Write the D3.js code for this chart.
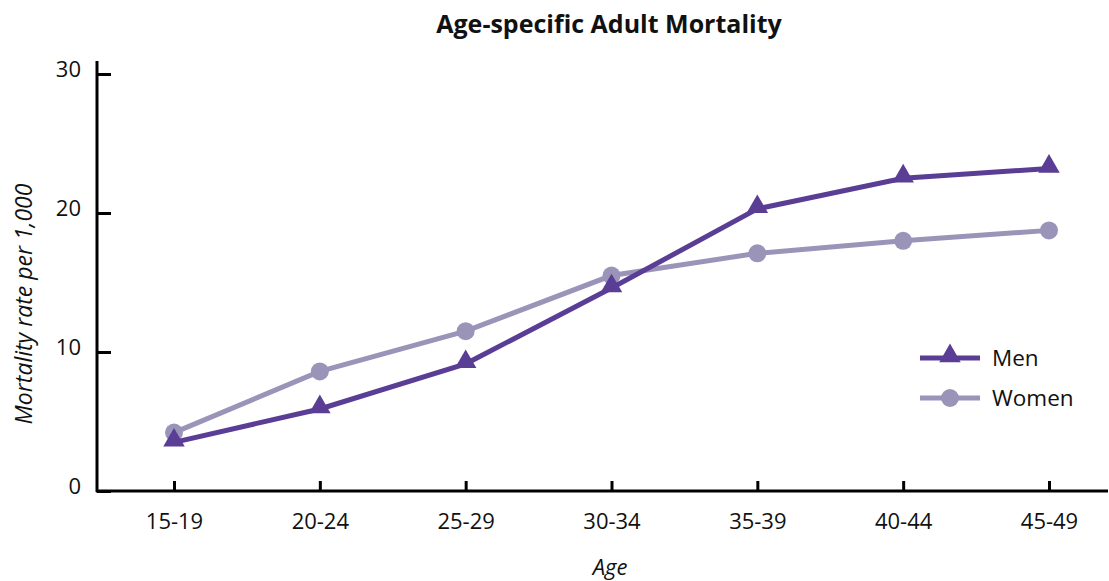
<!DOCTYPE html>
<html><head><meta charset="utf-8">
<script src="https://cdn.jsdelivr.net/npm/d3@7"></script>
<style>
body{margin:0;background:#fff;}
text{font-family:"Open Sans","Noto Sans",sans-serif;fill:#111;}
</style></head>
<body><svg id="c" width="1109" height="581"></svg>
<script>
const categories = ["15-19","20-24","25-29","30-34","35-39","40-44","45-49"];
const menValues = [3.5, 5.9, 9.15, 14.6, 20.3, 22.5, 23.2];
const womenValues = [4.2, 8.6, 11.5, 15.5, 17.1, 18.0, 18.75];
const yTicks = [0, 10, 20, 30];
const seriesNames = ["Men", "Women"];
const colors = {Men: "#5a3d94", Women: "#9a94b9"};

const svg = d3.select("#c");
const x = d3.scalePoint().domain(categories).range([174, 1049]);
const y = d3.scaleLinear().domain([0, 30]).range([491, 74]);

// axes
const yAxis = d3.axisLeft(y).tickValues(yTicks).tickSizeInner(-14).tickSizeOuter(0);
const gy = svg.append("g").attr("transform","translate(97,0)").call(yAxis);
gy.select(".domain").remove();
gy.append("line").attr("x1",0).attr("x2",0).attr("y1",61).attr("y2",492).attr("stroke","#000").attr("stroke-width",3);
gy.selectAll(".tick line").attr("stroke","#000").attr("stroke-width",3);
gy.selectAll(".tick text").attr("font-size",22).attr("fill","#111").attr("font-family","'Open Sans',sans-serif").attr("text-anchor","end").attr("x",-16).attr("dy","0.1em");

const xAxis = d3.axisBottom(x).tickSizeInner(-10).tickSizeOuter(0).tickPadding(22);
const gx = svg.append("g").attr("transform","translate(0,491)").call(xAxis);
gx.select(".domain").remove();
gx.append("line").attr("x1",96).attr("x2",1108).attr("y1",0).attr("y2",0).attr("stroke","#000").attr("stroke-width",3);
gx.selectAll(".tick line").attr("stroke","#000").attr("stroke-width",3);
gx.selectAll(".tick text").attr("font-size",22).attr("fill","#111").attr("font-family","'Open Sans',sans-serif");

// title and labels
svg.append("text").attr("x",609).attr("y",33).attr("text-anchor","middle").attr("font-size",25).attr("font-weight","bold").text("Age-specific Adult Mortality");
svg.append("text").attr("transform","translate(32,304) rotate(-90)").attr("text-anchor","middle").attr("font-size",23).attr("font-style","italic").text("Mortality rate per 1,000");
svg.append("text").attr("x",610).attr("y",575).attr("text-anchor","middle").attr("font-size",22).attr("font-style","italic").text("Age");

const line = d3.line().x((d,i)=>x(categories[i])).y(d=>y(d));
const tri = d3.symbol().type(d3.symbolTriangle).size(200);

function drawSeries(vals, name){
  const c = colors[name];
  svg.append("path").attr("d", line(vals)).attr("fill","none").attr("stroke",c).attr("stroke-width",5);
  vals.forEach((v,i)=>{
    if(name==="Men") svg.append("path").attr("d",tri()).attr("transform",`translate(${x(categories[i])},${y(v)-2})`).attr("fill",c);
    else svg.append("circle").attr("cx",x(categories[i])).attr("cy",y(v)).attr("r",9).attr("fill",c);
  });
}
drawSeries(womenValues, "Women");
drawSeries(menValues, "Men");

// legend
const leg = [{name:"Men", y:358},{name:"Women", y:398}];
leg.forEach(l=>{
  const c = colors[l.name];
  svg.append("line").attr("x1",920).attr("x2",980).attr("y1",l.y).attr("y2",l.y).attr("stroke",c).attr("stroke-width",5);
  if(l.name==="Men") svg.append("path").attr("d",tri()).attr("transform",`translate(950,${l.y-2})`).attr("fill",c);
  else svg.append("circle").attr("cx",950).attr("cy",l.y).attr("r",9).attr("fill",c);
  svg.append("text").attr("x",992).attr("y",l.y+8).attr("font-size",22.5).text(l.name);
});
</script></body></html>
